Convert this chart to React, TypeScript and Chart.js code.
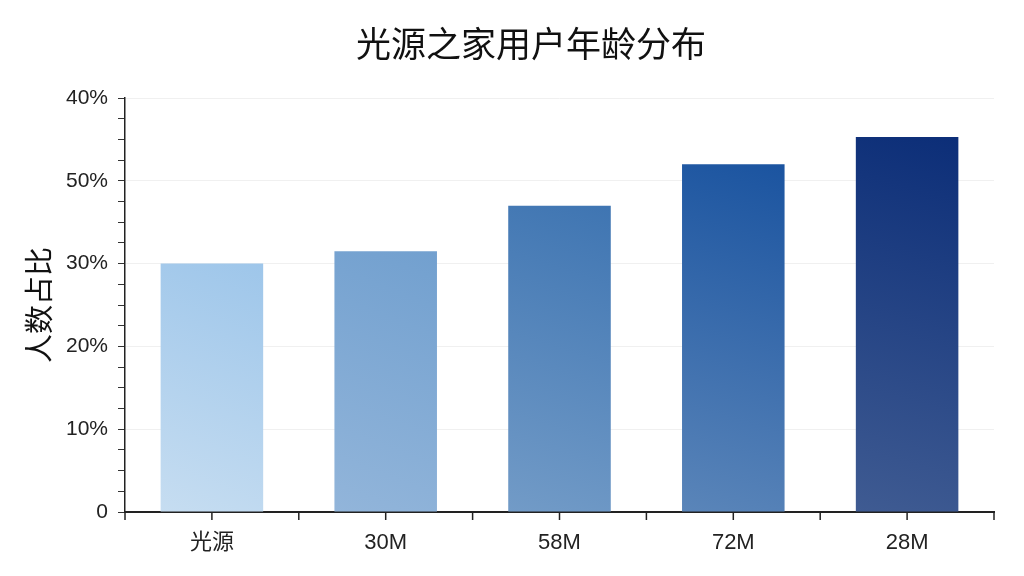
import React, { useEffect, useRef } from 'react'
import { Chart, registerables } from 'chart.js'

Chart.register(...registerables)

const chartTitle = '光源之家用户年龄分布'
const categories = ['光源', '30M', '58M', '72M', '28M']
const shares = [30, 31.5, 37, 42, 45.3]
const yTickLabels = ['0', '10%', '20%', '30%', '50%', '40%']
const barTopColors = ['#9ec6ea', '#72a0cf', '#3f75b2', '#1b54a0', '#0c2e78']
const barBottomColors = ['#c6ddf1', '#92b5da', '#729bc7', '#5a85b9', '#3f5b92']

const cjk = '"Liberation Sans", "Noto Sans CJK SC", sans-serif'

const xTicksPlugin = {
  id: 'xTicks',
  afterDraw(chart: any) {
    const x = chart.scales.x
    const bottom = chart.chartArea.bottom
    const step = x.getPixelForValue(1) - x.getPixelForValue(0)
    const c = chart.ctx
    c.save()
    c.strokeStyle = '#222'
    c.lineWidth = 1.5
    for (let i = 0; i <= categories.length; i++) {
      const edge = x.getPixelForValue(i) - step / 2
      c.beginPath()
      c.moveTo(edge, bottom)
      c.lineTo(edge, bottom + 8)
      c.stroke()
      if (i < categories.length) {
        const mid = x.getPixelForValue(i)
        c.beginPath()
        c.moveTo(mid, bottom)
        c.lineTo(mid, bottom + 8)
        c.stroke()
      }
    }
    c.restore()
  },
}

// title sits a bit right of the canvas centre, so it is drawn by hand
const titlePlugin = {
  id: 'offsetTitle',
  afterDraw(chart: any) {
    const c = chart.ctx
    c.save()
    c.fillStyle = '#111'
    c.font = '35px "Noto Sans CJK SC", sans-serif'
    c.textAlign = 'center'
    c.textBaseline = 'middle'
    c.fillText(chartTitle, 531, 44)
    c.restore()
  },
}

export default function App() {
  const ref = useRef<HTMLCanvasElement | null>(null)

  useEffect(() => {
    document.body.style.margin = '0'
    if (!ref.current) return
    const chart = new Chart(ref.current, {
      type: 'bar',
      data: {
        labels: categories,
        datasets: [
          {
            label: '人数占比',
            data: shares,
            categoryPercentage: 1,
            barPercentage: 0.59,
            backgroundColor: (ctx: any) => {
              const ch = ctx.chart
              const area = ch.chartArea
              if (!area || ctx.dataIndex === undefined) return barTopColors[0]
              const i = ctx.dataIndex
              const xs = ch.scales.x
              const ys = ch.scales.y
              const half = ((xs.getPixelForValue(1) - xs.getPixelForValue(0)) * 0.59) / 2
              const cx = xs.getPixelForValue(i)
              const g = ch.ctx.createLinearGradient(cx - half, area.bottom, cx + half, ys.getPixelForValue(shares[i]))
              g.addColorStop(0, barBottomColors[i])
              g.addColorStop(1, barTopColors[i])
              return g
            },
          },
        ],
      },
      options: {
        responsive: false,
        animation: false,
        layout: { padding: { left: 22, right: 30, top: 98, bottom: 0 } },
        plugins: {
          legend: { display: false },
          tooltip: { enabled: false },
          title: { display: false },
        },
        scales: {
          x: {
            grid: { display: false },
            border: { display: true, color: '#222', width: 2 },
            ticks: {
              color: '#222',
              font: { family: cjk, size: 22 },
              padding: 10,
            },
            afterFit: (s: any) => {
              s.height = 64
            },
          },
          y: {
            min: 0,
            max: 50,
            border: { display: true, color: '#222', width: 1.5 },
            grid: {
              color: (ctx: any) => (ctx.tick && ctx.tick.value % 10 === 0 ? '#f0f0f0' : 'rgba(0,0,0,0)'),
              tickColor: '#333',
              tickLength: 7,
            },
            ticks: {
              stepSize: 2.5,
              autoSkip: false,
              color: '#222',
              font: { family: cjk, size: 21 },
              padding: 10,
              callback: (v: any) => (Number(v) % 10 === 0 ? yTickLabels[Number(v) / 10] : ''),
            },
            title: {
              display: true,
              text: '人数占比',
              color: '#111',
              font: { family: '"Noto Sans CJK SC", sans-serif', size: 29 },
              padding: { top: 0, bottom: 10 },
            },
            afterFit: (s: any) => {
              s.width = 103
            },
          },
        },
      },
      plugins: [xTicksPlugin, titlePlugin],
    })
    return () => chart.destroy()
  }, [])

  return <canvas ref={ref} width={1024} height={576} style={{ display: 'block' }} />
}
